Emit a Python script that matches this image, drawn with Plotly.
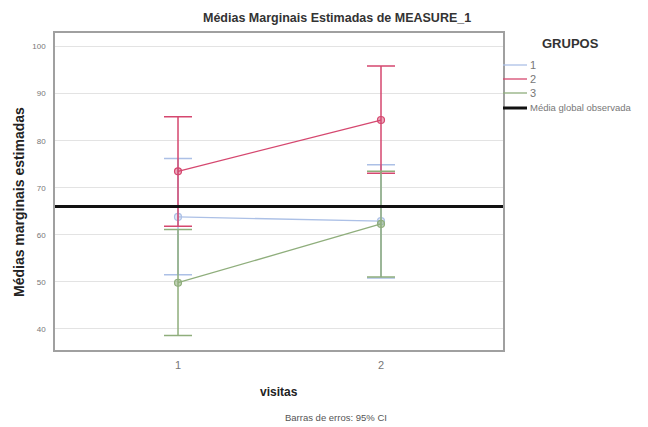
import plotly.graph_objects as go

# ---- data ----
visits = [1, 2]
visit_labels = ["1", "2"]
groups = ["1", "2", "3"]
means = {
    "1": [63.8, 62.9],
    "2": [73.5, 84.4],
    "3": [49.8, 62.3],
}
ci_low = {
    "1": [51.5, 50.8],
    "2": [61.8, 73.1],
    "3": [38.6, 51.0],
}
ci_high = {
    "1": [76.2, 74.9],
    "2": [85.1, 95.9],
    "3": [61.1, 73.5],
}
overall_mean = 66.0
y_ticks = [40, 50, 60, 70, 80, 90, 100]

colors = {"1": "#acc0e6", "2": "#d5476f", "3": "#8fae7c"}
fills = {"1": "rgba(172,192,230,0.35)", "2": "rgba(213,71,111,0.45)", "3": "rgba(143,174,124,0.55)"}

# page body has an 8px margin: work in window pixels, subtract offset
OFF = 8
W, H = 648 - OFF, 427 - OFF
L, R, T, B = 55 - OFF, 503 - OFF, 33 - OFF, 350 - OFF
FONT = "Liberation Sans, Arial"


def px(x):
    return (x - OFF - L) / (R - L)


def py(y):
    return (B - (y - OFF)) / (B - T)


fig = go.Figure()

for g in groups:
    m = means[g]
    hi = [h - v for h, v in zip(ci_high[g], m)]
    lo = [v - l for v, l in zip(m, ci_low[g])]
    fig.add_trace(go.Scatter(
        x=visits, y=m, mode="lines+markers", name=g,
        line=dict(color=colors[g], width=1.3),
        marker=dict(symbol="circle", size=7, color=fills[g],
                    line=dict(color=colors[g], width=1.2)),
        error_y=dict(type="data", symmetric=False, array=hi, arrayminus=lo,
                     color=colors[g], thickness=1.5, width=14),
        showlegend=False,
    ))

# overall mean line
fig.add_shape(type="line", xref="x domain", yref="y", x0=0, x1=1,
              y0=overall_mean, y1=overall_mean,
              line=dict(color="#111111", width=3))

# manual legend
legend_rows = [("1", colors["1"], 1.3, 65), ("2", colors["2"], 1.3, 79),
               ("3", colors["3"], 1.3, 93), ("Média global observada", "#111111", 3, 108)]
for label, col, w, yy in legend_rows:
    fig.add_shape(type="line", xref="paper", yref="paper",
                  x0=px(503), x1=px(527), y0=py(yy), y1=py(yy),
                  line=dict(color=col, width=w))
    fig.add_annotation(xref="paper", yref="paper", x=px(528), y=py(yy),
                       text=label, showarrow=False, xanchor="left", yanchor="middle",
                       font=dict(family=FONT, size=9.5 if len(label) > 2 else 11,
                                 color="#777777"))
fig.add_annotation(xref="paper", yref="paper", x=px(570), y=py(43), text="<b>GRUPOS</b>",
                   showarrow=False, xanchor="center", yanchor="middle",
                   font=dict(family=FONT, size=13, color="#333333"))

# titles
fig.add_annotation(xref="paper", yref="paper", x=px(337), y=py(18),
                   text="<b>Médias Marginais Estimadas de MEASURE_1</b>", showarrow=False,
                   xanchor="center", yanchor="middle",
                   font=dict(family=FONT, size=12.5, color="#333333"))
fig.add_annotation(xref="paper", yref="paper", x=px(279), y=py(392),
                   text="<b>visitas</b>", showarrow=False,
                   xanchor="center", yanchor="middle",
                   font=dict(family=FONT, size=12, color="#222222"))
fig.add_annotation(xref="paper", yref="paper", x=px(19), y=py(202),
                   text="<b>Médias marginais estimadas</b>", showarrow=False, textangle=-90,
                   xanchor="center", yanchor="middle",
                   font=dict(family=FONT, size=14, color="#222222"))
fig.add_annotation(xref="paper", yref="paper", x=px(336), y=py(417),
                   text="Barras de erros: 95% CI", showarrow=False,
                   xanchor="center", yanchor="middle",
                   font=dict(family=FONT, size=9.5, color="#555555"))

fig.update_layout(
    width=W, height=H,
    margin=dict(l=L, r=W - R, t=T, b=H - B, pad=0),
    paper_bgcolor="white", plot_bgcolor="white",
    showlegend=False,
)
fig.update_xaxes(range=[0.394, 2.601], tickvals=visits, ticktext=visit_labels,
                 showgrid=False, zeroline=False, showline=True, mirror=True,
                 linecolor="#a0a0a0", linewidth=1.5, ticks="", ticklabelstandoff=4,
                 tickfont=dict(family=FONT, size=11, color="#777777"))
fig.update_yaxes(range=[35.5, 102.9], tickvals=y_ticks,
                 showgrid=True, gridcolor="#e3e3e3", gridwidth=1, zeroline=False,
                 showline=True, mirror=True, linecolor="#a0a0a0", linewidth=1.5,
                 ticks="", ticklabelstandoff=6,
                 tickfont=dict(family=FONT, size=8, color="#777777"))

fig.write_html("out.html")
